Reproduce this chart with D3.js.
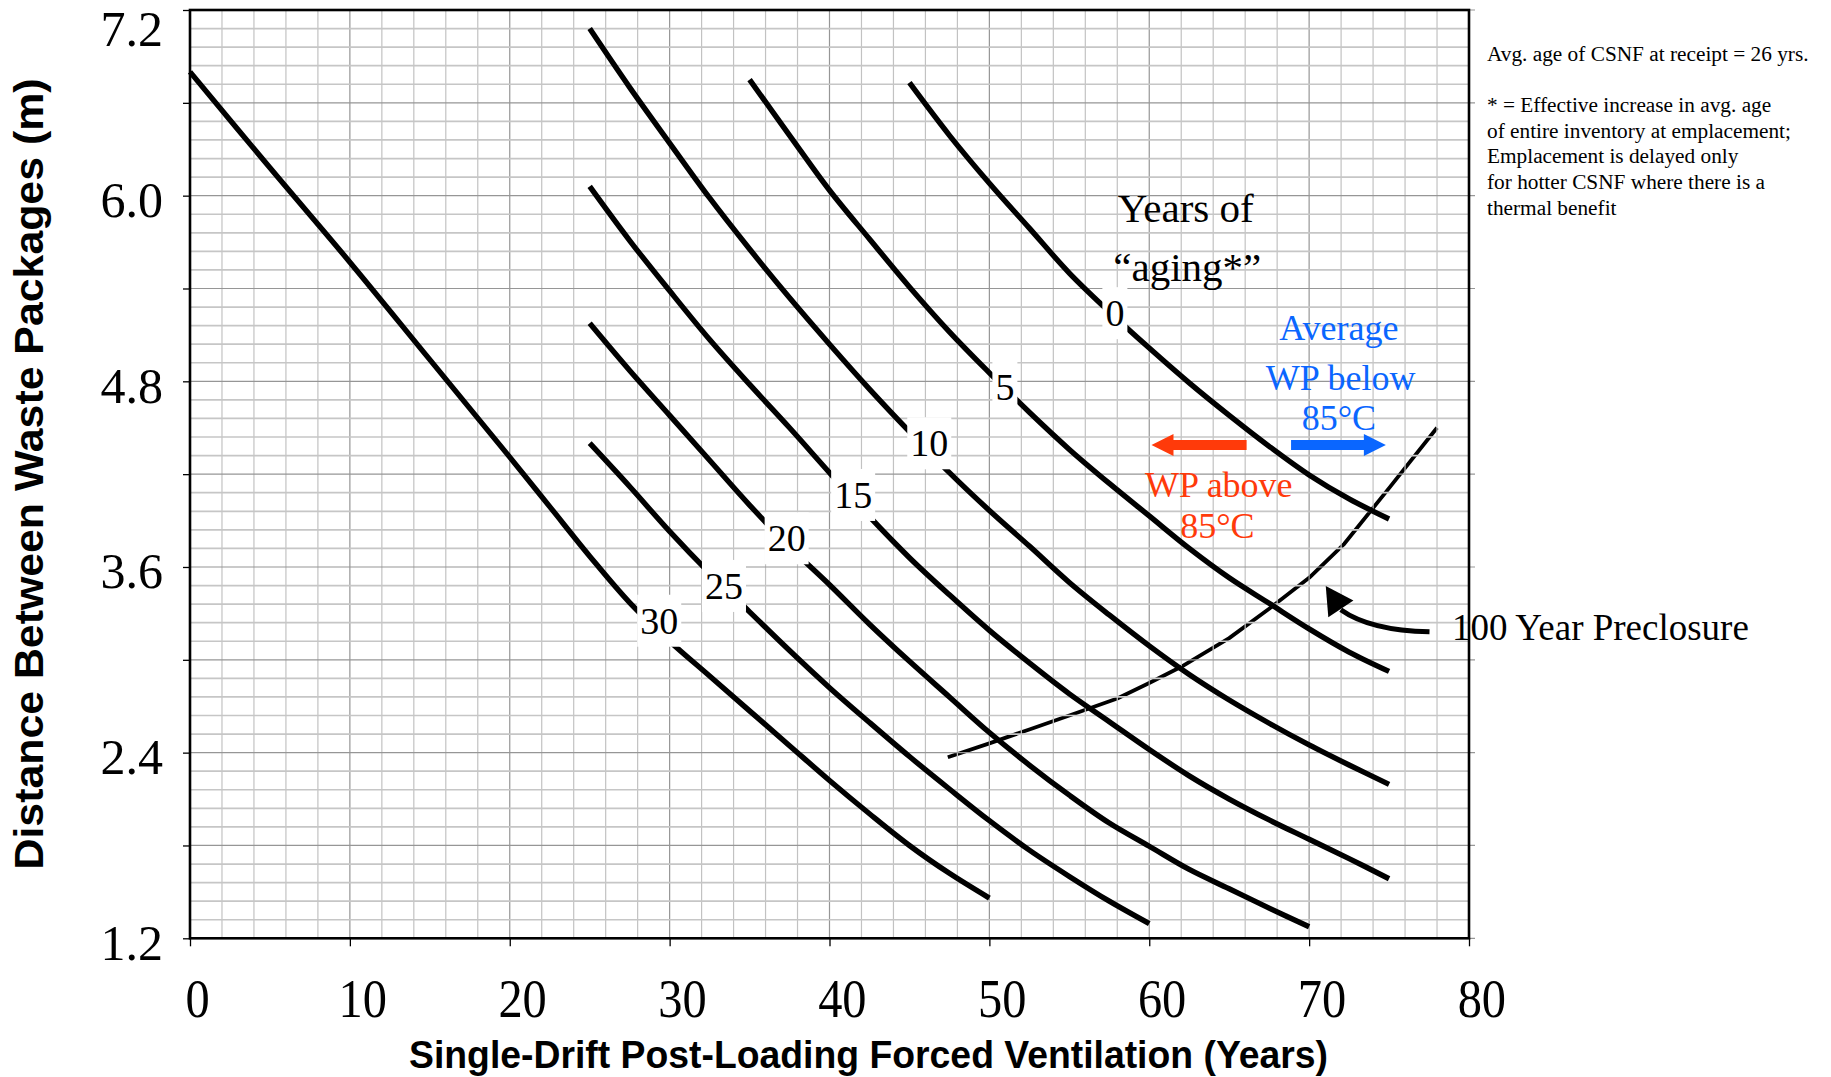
<!DOCTYPE html>
<html><head><meta charset="utf-8">
<script src="https://cdn.jsdelivr.net/npm/d3@7"></script>
<style>body{margin:0;background:#fff}svg{display:block}</style>
</head><body>
<svg id="chart" width="1831" height="1077"></svg>
<script>
// ---------- data ----------
const xTickValues = [0,10,20,30,40,50,60,70,80];
const yTickValues = [1.2,1.8,2.4,3.0,3.6,4.2,4.8,5.4,6.0,6.6,7.2];
const yLabelled   = ["1.2","2.4","3.6","4.8","6.0","7.2"];

const agingLabels = ["0","5","10","15","20","25","30"];
const labelYears  = [57.85,50.97,46.24,41.48,37.32,33.40,29.35];
const labelDist   = [5.24,4.761,4.399,4.065,3.785,3.477,3.252];

const curve0  = [[45,6.73],[47.5,6.39],[50,6.08],[52.5,5.79],[55,5.50],[57.5,5.25],[60,5.015],[62.5,4.79],[65,4.58],[67.5,4.38],[70,4.195],[72.5,4.04],[75,3.91]];
const curve5  = [[35,6.75],[37.5,6.39],[40,6.035],[42.5,5.72],[45,5.41],[47.5,5.12],[50,4.855],[52.5,4.60],[55,4.36],[57.5,4.14],[60,3.93],[62.5,3.72],[65,3.53],[67.5,3.365],[70,3.20],[72.5,3.05],[75,2.925]];
const curve10 = [[25,7.08],[27.5,6.70],[30,6.34],[32.5,5.985],[35,5.655],[37.5,5.34],[40,5.04],[42.5,4.75],[45,4.475],[47.5,4.21],[50,3.965],[52.5,3.735],[55,3.50],[57.5,3.29],[60,3.09],[62.5,2.905],[65,2.74],[67.5,2.59],[70,2.45],[72.5,2.32],[75,2.195]];
const curve15 = [[25,6.06],[27.5,5.71],[30,5.385],[32.5,5.07],[35,4.78],[37.5,4.50],[40,4.21],[42.5,3.925],[45,3.66],[47.5,3.42],[50,3.19],[52.5,2.98],[55,2.78],[57.5,2.60],[60,2.42],[62.5,2.25],[65,2.10],[67.5,1.965],[70,1.84],[72.5,1.715],[75,1.585]];
const curve20 = [[25,5.175],[27.5,4.87],[30,4.58],[32.5,4.29],[35,4.0],[37.5,3.73],[40,3.485],[42.5,3.23],[45,2.99],[47.5,2.76],[50,2.53],[52.5,2.32],[55,2.125],[57.5,1.945],[60,1.795],[62.5,1.645],[65,1.52],[67.5,1.395],[70,1.275]];
const curve25 = [[25,4.40],[27.5,4.12],[30,3.83],[32.5,3.56],[35,3.31],[37.5,3.06],[40,2.82],[42.5,2.595],[45,2.375],[47.5,2.165],[50,1.96],[52.5,1.77],[55,1.60],[57.5,1.44],[60,1.295]];
const curve30 = [[0,6.80],[5,6.18],[10,5.57],[15,4.94],[20,4.31],[22.5,3.99],[25,3.67],[27.5,3.37],[30,3.12],[32.5,2.895],[35,2.67],[37.5,2.445],[40,2.22],[42.5,2.005],[45,1.80],[47.5,1.62],[50,1.46]];
const preclosure = [[47.4,2.37],[50,2.46],[52.5,2.55],[55,2.64],[58,2.75],[60,2.85],[62,2.955],[65,3.14],[67.5,3.33],[70,3.53],[72.2,3.75],[75,4.11],[78,4.50]];

const notes = ["Avg. age of CSNF at receipt = 26 yrs.", "* = Effective increase in avg. age", "of entire inventory at emplacement;", "Emplacement is delayed only", "for hotter CSNF where there is a", "thermal benefit"];

// ---------- setup ----------
const svg = d3.select("#chart");
const L = 190, R = 1469, T = 10, B = 938.3;
const x = d3.scaleLinear().domain([0,80]).range([L,R]);
const y = d3.scaleLinear().domain([1.2,7.2]).range([B,T]);
const serif = "'Liberation Serif','Times New Roman',serif";
const sans  = "'Liberation Sans',Arial,sans-serif";

const curves = [curve0,curve5,curve10,curve15,curve20,curve25,curve30];
const line = d3.line().x(d=>x(d[0])).y(d=>y(d[1])).curve(d3.curveCatmullRom.alpha(0.5));
const lineLin = d3.line().x(d=>x(d[0])).y(d=>y(d[1]));

// preclosure line beneath the grid (grid shows through it)
svg.append("path").attr("d", lineLin(preclosure))
  .attr("fill","none").attr("stroke","#000").attr("stroke-width",3.8).attr("stroke-linejoin","round");

// ---------- grid ----------
const grid = svg.append("g");
const vMinor = d3.range(0,81,2);
grid.selectAll("line.v").data(vMinor).join("line")
  .attr("x1",d=>x(d)).attr("x2",d=>x(d)).attr("y1",T).attr("y2",B)
  .attr("stroke",d=> d%10===0 ? "#969696" : "#c2c2c2").attr("stroke-width",1.2);
const hMinor = d3.range(0,51).map(i=>1.2+i*0.12);
grid.selectAll("line.h").data(hMinor).join("line")
  .attr("x1",L).attr("x2",(d,i)=> i%5===0 ? R+6 : R).attr("y1",d=>y(d)).attr("y2",d=>y(d))
  .attr("stroke",(d,i)=> i%5===0 ? "#969696" : "#c6c6c6").attr("stroke-width",(d,i)=> i%5===0 ? 1.2 : 1.7);

// ---------- curves ----------
svg.append("g").selectAll("path").data(curves).join("path")
  .attr("d", line).attr("fill","none").attr("stroke","#000").attr("stroke-width",5.4);

// ---------- border ----------
svg.append("rect").attr("x",L).attr("y",T).attr("width",R-L).attr("height",B-T)
  .attr("fill","none").attr("stroke","#000").attr("stroke-width",2.6);

// ---------- axes ----------
const yAxis = d3.axisLeft(y).tickValues(yTickValues).tickSize(7).tickSizeOuter(0).tickPadding(20)
  .tickFormat(v => yLabelled.includes(v.toFixed(1)) ? v.toFixed(1) : "");
const gy = svg.append("g").attr("transform",`translate(${L},0)`).call(yAxis);
gy.select(".domain").remove();
gy.selectAll(".tick line").attr("stroke","#000").attr("stroke-width",1.3);
gy.selectAll(".tick text").attr("dy",null)
  .attr("y", d => Math.max(21, 45 - y(d)))
  .attr("font-family",serif).attr("font-size",50).attr("fill","#000");

const xAxis = d3.axisBottom(x).tickValues(xTickValues).tickSize(8).tickSizeOuter(0).tickFormat(d=>String(d));
const gx = svg.append("g").attr("transform",`translate(0,${B})`).call(xAxis);
gx.select(".domain").remove();
gx.selectAll(".tick line").attr("stroke","#000").attr("stroke-width",1.3);
gx.selectAll(".tick text").attr("dy",null).attr("y",79).attr("x",d => d===0 ? 8 : 14)
  .attr("transform","scale(0.88,1)")
  .attr("font-family",serif).attr("font-size",55).attr("fill","#000");

// axis titles
svg.append("text").attr("transform","translate(43,474) rotate(-90)")
  .attr("text-anchor","middle").attr("font-family",sans).attr("font-weight","bold")
  .attr("font-size",41).attr("textLength",791).attr("lengthAdjust","spacingAndGlyphs")
  .text("Distance Between Waste Packages (m)");
svg.append("text").attr("x",868.5).attr("y",1068)
  .attr("text-anchor","middle").attr("font-family",sans).attr("font-weight","bold")
  .attr("font-size",39).attr("textLength",919).attr("lengthAdjust","spacingAndGlyphs")
  .text("Single-Drift Post-Loading Forced Ventilation (Years)");

// ---------- curve labels ----------
const lab = svg.append("g");
agingLabels.forEach((t,i)=>{
  const g = lab.append("g");
  const tx = g.append("text").attr("x",x(labelYears[i])).attr("y",y(labelDist[i])).attr("dy","0.34em")
    .attr("text-anchor","middle").attr("font-family",serif).attr("font-size",38).attr("fill","#000").text(t);
  const bb = tx.node().getBBox();
  g.insert("rect","text").attr("x",bb.x-3).attr("y",bb.y-5).attr("width",bb.width+6).attr("height",bb.height+10).attr("fill","#fff");
});

// ---------- annotations ----------
const ann = svg.append("g").attr("font-family",serif).attr("text-anchor","middle");
ann.append("text").attr("x",x(62.28)).attr("y",y(5.832)).attr("font-size",41).text("Years of");
ann.append("text").attr("x",x(62.38)).attr("y",y(5.45)).attr("font-size",41).text("\u201Caging*\u201D");

const blue = "#0a66ff", red = "#ff3a0a";
ann.append("text").attr("x",x(71.86)).attr("y",y(5.067)).attr("font-size",36).attr("fill",blue).text("Average");
ann.append("text").attr("x",x(71.97)).attr("y",y(4.744)).attr("font-size",36).attr("fill",blue).text("WP below");
ann.append("text").attr("x",x(71.86)).attr("y",y(4.485)).attr("font-size",36).attr("fill",blue).text("85\u00B0C");
ann.append("text").attr("x",x(64.35)).attr("y",y(4.054)).attr("font-size",36).attr("fill",red).text("WP above");
ann.append("text").attr("x",x(64.26)).attr("y",y(3.785)).attr("font-size",36).attr("fill",red).text("85\u00B0C");

function blockArrow(x0, x1, yy, color){
  const dir = Math.sign(x1-x0), hl = 22, hw = 11, sw = 5;
  const hb = x1 - dir*hl;
  const p = d3.path();
  p.moveTo(x0, yy-sw); p.lineTo(hb, yy-sw); p.lineTo(hb, yy-hw); p.lineTo(x1, yy);
  p.lineTo(hb, yy+hw); p.lineTo(hb, yy+sw); p.lineTo(x0, yy+sw); p.closePath();
  svg.append("path").attr("d",p.toString()).attr("fill",color);
}
blockArrow(x(66.09), x(60.14), y(4.388), red);
blockArrow(x(68.87), x(74.8), y(4.388), blue);

// curved arrow to preclosure line
const ap = d3.path();
ap.moveTo(x(77.53), y(3.181));
ap.quadraticCurveTo(x(73.8), y(3.19), x(71.98), y(3.324));
svg.append("path").attr("d",ap.toString()).attr("fill","none").attr("stroke","#000").attr("stroke-width",5);
const hp = d3.path();
hp.moveTo(x(71.04), y(3.477)); hp.lineTo(x(71.2), y(3.275)); hp.lineTo(x(72.77), y(3.383)); hp.closePath();
svg.append("path").attr("d",hp.toString()).attr("fill","#000");
svg.append("text").attr("x",x(78.93)).attr("y",y(3.128)).attr("font-family",serif).attr("font-size",37)
  .text("100 Year Preclosure");

// notes
const baselines = [60.5, 112, 137.7, 163.4, 189.1, 214.8];
const nt = svg.append("g").attr("font-family",serif).attr("font-size",21.3).attr("fill","#000");
notes.forEach((s,i)=>{ nt.append("text").attr("x",1487).attr("y",baselines[i]).text(s); });
</script>
</body></html>
